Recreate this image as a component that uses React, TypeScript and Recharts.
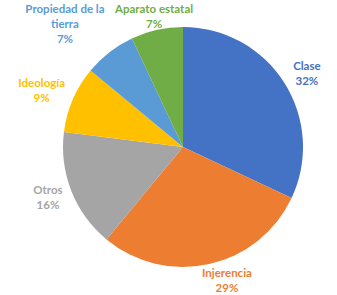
import React from "react";
import { PieChart, Pie, Cell } from "recharts";

const categories = ["Clase", "Injerencia", "Otros", "Ideología", "Propiedad de la tierra", "Aparato estatal"];
const values = [32, 29, 16, 9, 7, 7];
const labelLines = [["Clase"], ["Injerencia"], ["Otros"], ["Ideología"], ["Propiedad de la", "tierra"], ["Aparato estatal"]];
const colors = ["#4472C4", "#ED7D31", "#A5A5A5", "#FFC000", "#5B9BD5", "#70AD47"];
// small manual label nudges (px) relative to an automatic anchor outside the pie
const labelNudge: [number, number][] = [[4, 2], [13, -6], [-3, -2], [-11, -1], [-31, -11], [2, 8]];

const data = categories.map((name, i) => ({ name, value: values[i] }));

const RADIAN = Math.PI / 180;

const renderLabel = (props: any) => {
  const { cx, cy, midAngle, outerRadius, index, percent } = props;
  const d = outerRadius + 22;
  const [nx, ny] = labelNudge[index];
  const x = cx + d * Math.cos(-midAngle * RADIAN) + nx;
  const y = cy + d * Math.sin(-midAngle * RADIAN) + ny;
  const lines = [...labelLines[index], `${Math.round(percent * 100)}%`];
  const lh = 15;
  const top = y - ((lines.length - 1) * lh) / 2;
  return (
    <text
      x={x}
      y={top}
      fill={colors[index]}
      textAnchor="middle"
      fontFamily="Lato, 'Open Sans', sans-serif"
      fontWeight="bold"
      fontSize={11.5}
    >
      {lines.map((l, i) => (
        <tspan key={i} x={x} y={top + i * lh} dominantBaseline="central">
          {l}
        </tspan>
      ))}
    </text>
  );
};

export default function App() {
  return (
    <div style={{ position: "absolute", left: 0, top: 0, width: 337, height: 295, background: "#fff" }}>
      <PieChart width={337} height={295} margin={{ top: 0, right: 0, bottom: 0, left: 0 }}>
        <Pie
          data={data}
          dataKey="value"
          nameKey="name"
          cx={183}
          cy={147}
          outerRadius={120}
          startAngle={90}
          endAngle={-270}
          stroke="none"
          label={renderLabel}
          labelLine={false}
          isAnimationActive={false}
        >
          {data.map((d, i) => (
            <Cell key={d.name} fill={colors[i]} />
          ))}
        </Pie>
      </PieChart>
    </div>
  );
}
